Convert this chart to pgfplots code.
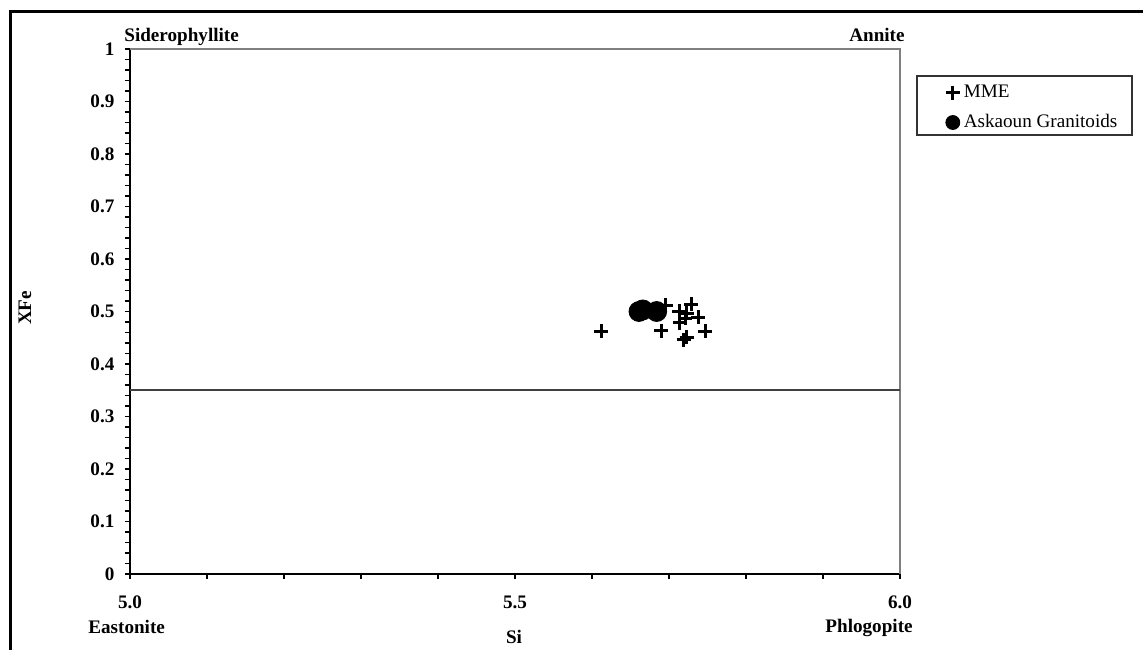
\documentclass[border=0pt]{standalone}
\usepackage{fontspec}
\setmainfont{Liberation Serif}
\usepackage{pgfplots}
\pgfplotsset{compat=1.18}

\newcommand{\lbl}{\fontsize{9.6}{11}\selectfont\bfseries}

\begin{document}
\begin{tikzpicture}
\useasboundingbox (-65bp,-38bp) rectangle (506.5bp,287bp);
% outer frame
\draw[line width=1.5bp] (-59.5bp,-38bp) -- (-59.5bp,281bp) -- (506.5bp,281bp);

\begin{axis}[
    at={(0,0)}, anchor=south west,
    scale only axis,
    width=385bp, height=262.5bp,
    xmin=5, xmax=6, ymin=0, ymax=1,
    axis x line*=bottom, axis y line*=left,
    axis line style={-, black, line width=1bp},
    tick align=outside,
    major tick length=2.5bp, minor tick length=2.5bp,
    tick style={black, line width=0.6bp},
    xtick={5,5.1,5.2,5.3,5.4,5.5,5.6,5.7,5.8,5.9,6},
    xticklabels={5.0,,,,,5.5,,,,,6.0},
    ytick={0,0.1,0.2,0.3,0.4,0.5,0.6,0.7,0.8,0.9,1},
    yticklabels={0,0.1,0.2,0.3,0.4,0.5,0.6,0.7,0.8,0.9,1},
    minor y tick num=4,
    ticklabel style={font=\lbl},
    xticklabel shift=4.8bp,
    yticklabel shift=1.8bp,
    clip=false,
    legend cell align=left,
    legend style={draw=none, fill=none, at={(1.059,0.94)}, anchor=north west,
        inner sep=0pt, row sep=3bp, font=\fontsize{9.6}{11}\selectfont},
    legend image code/.code={\draw[mark repeat=2,mark phase=2,#1] plot coordinates {(0bp,0bp) (3.5bp,0bp) (7bp,0bp)};},
    legend image post style={mark size=3.5bp},
]
% grey top and right frame of the plot area
\draw[gray, line width=0.7bp] (rel axis cs:0,1) -- (rel axis cs:1,1) -- (rel axis cs:1,0);

\addplot[forget plot, gray!50!black, line width=0.8bp] coordinates {(5,0.35) (6,0.35)};

\addplot[only marks, mark=+, mark size=3.5bp, line width=1.5bp, black] coordinates {
    (5.612,0.462)
    (5.696,0.512)
    (5.690,0.463)
    (5.713,0.500)
    (5.729,0.514)
    (5.721,0.487)
    (5.714,0.479)
    (5.738,0.489)
    (5.747,0.462)
    (5.723,0.451)
    (5.719,0.446)
    (5.723,0.497)
};
\addlegendentry{MME}

\addplot[only marks, mark=*, mark size=5bp, black] coordinates {
    (5.661,0.500)
    (5.666,0.503)
    (5.684,0.500)
};
\addlegendentry{Askaoun Granitoids}
\end{axis}

% legend box
\draw[gray!40!black, line width=0.7bp] (393.5bp,219.5bp) rectangle (501bp,249bp);

% corner and axis labels
\node[anchor=base west, inner sep=0pt, font=\lbl] at (-3bp,266bp) {Siderophyllite};
\node[anchor=base east, inner sep=0pt, font=\lbl] at (387.5bp,266bp) {Annite};
\node[anchor=base west, inner sep=0pt, font=\lbl] at (-21bp,-29.5bp) {Eastonite};
\node[anchor=base east, inner sep=0pt, font=\lbl] at (391.5bp,-29bp) {Phlogopite};
\node[anchor=base, inner sep=0pt, font=\lbl] at (192bp,-34.5bp) {Si};
\node[rotate=90, inner sep=0pt, font=\lbl] at (-52.5bp,133bp) {XFe};
\end{tikzpicture}
\end{document}
